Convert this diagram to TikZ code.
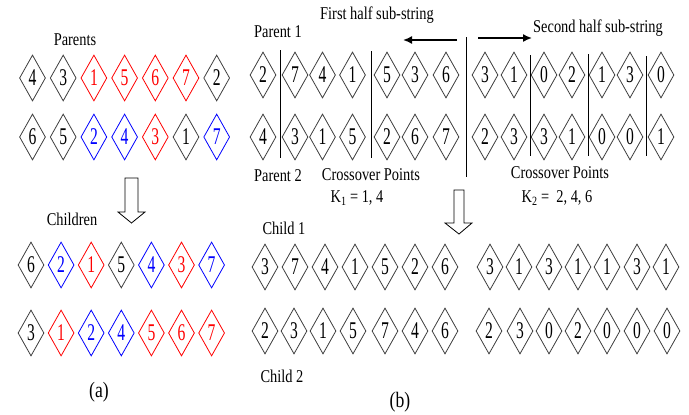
\documentclass[tikz,border=0pt]{standalone}
\usepackage{fontspec}
\setmainfont{Liberation Serif}
\usepackage{graphicx}
\usetikzlibrary{shapes.geometric,arrows.meta}
\definecolor{dgray}{HTML}{404040}
\definecolor{dred}{HTML}{FF0000}
\definecolor{dblue}{HTML}{0000FF}
\newcommand{\lbl}[1]{\scalebox{0.8}[1]{\fontsize{18}{18}\selectfont #1}}
\newcommand{\biglbl}[1]{\scalebox{0.8}[1]{\fontsize{22}{22}\selectfont #1}}
\newcommand{\dgt}[1]{\scalebox{0.65}[1]{\fontsize{24}{24}\selectfont #1}}
\tikzset{
  gem/.style={diamond, draw=dgray, line width=0.8pt, minimum width=26pt, minimum height=46pt, inner sep=0pt, aspect=0.57, text=black},
  redgem/.style={gem, draw=dred, text=dred},
  bluegem/.style={gem, draw=dblue, text=dblue},
  lab/.style={inner sep=0pt, text=black},
  cut/.style={draw=black, line width=0.8pt},
  harrow/.style={draw=black, line width=1.6pt, -{Latex[length=9pt,width=8pt]}},
  hollow/.style={draw=black, line width=0.8pt, fill=white, line join=miter},
}
\begin{document}
\begin{tikzpicture}[x=1pt,y=-1pt]
\fill[white] (0,0) rectangle (689,415);
% ---------- panel (a) ----------
\node[lab] (parents) at (75,40) {\lbl{Parents}};
\foreach \d/\s [count=\i] in {4/gem,3/gem,1/redgem,5/redgem,6/redgem,7/redgem,2/gem}
  \node[\s] (ar1-\i) at ({32.5+30.7*(\i-1)},78) {\dgt{\d}};
\foreach \d/\s [count=\i] in {6/gem,5/gem,2/bluegem,4/bluegem,3/redgem,1/gem,7/bluegem}
  \node[\s] (ar2-\i) at ({32.5+30.7*(\i-1)},137) {\dgt{\d}};
\draw[hollow] (125,178) -- (138,178) -- (138,212) -- (145,212) -- (131.5,223) -- (118,212) -- (125,212) -- cycle;
\node[lab] (children) at (72,219) {\lbl{Children}};
\foreach \d/\s [count=\i] in {6/gem,2/bluegem,1/redgem,5/gem,4/bluegem,3/redgem,7/bluegem}
  \node[\s] (ar3-\i) at ({31+30.1*(\i-1)},265) {\dgt{\d}};
\foreach \d/\s [count=\i] in {3/gem,1/redgem,2/bluegem,4/bluegem,5/redgem,6/redgem,7/redgem}
  \node[\s] (ar4-\i) at ({31+30.1*(\i-1)},333) {\dgt{\d}};
\node[lab] (capa) at (99,392) {\biglbl{(a)}};
% ---------- panel (b) ----------
\node[lab] (p1) at (278,32) {\lbl{Parent 1}};
\node[lab] (first) at (377,15) {\lbl{First half sub-string}};
\node[lab] (second) at (598,28) {\lbl{Second half sub-string}};
\coordinate (la0) at (457,40); \coordinate (la1) at (403,40);
\coordinate (ra0) at (478,38); \coordinate (ra1) at (532,38);
\draw[harrow] (la0) -- (la1);
\draw[harrow] (ra0) -- (ra1);
\coordinate (midt) at (466,37); \coordinate (midb) at (466,177);
\draw[cut] (midt) -- (midb);
% parent rows
\foreach \x/\d [count=\i] in {263/2,295/7,322.5/4,352.5/1,387/5,415/3,446/6,485/3,514/1,544/0,572/2,602/1,630/3,661/0}
  \node[gem] (bp1-\i) at (\x,75) {\dgt{\d}};
\foreach \x/\d [count=\i] in {263/4,295/3,322.5/1,352.5/5,387/2,415/6,446/7,485/2,514/3,544/3,572/1,602/0,630/0,661/1}
  \node[gem] (bp2-\i) at (\x,137) {\dgt{\d}};
% crossover cut lines
\foreach \x/\t/\b [count=\i] in {280/50/158,371/51/158,530/55/156,588/54/156,646/56/156}{
  \coordinate (ct\i) at (\x,\t); \coordinate (cb\i) at (\x,\b);
  \draw[cut] (ct\i) -- (cb\i);
}
\node[lab] (p2) at (278,176) {\lbl{Parent 2}};
\node[lab] (cp1) at (371,175) {\lbl{Crossover Points}};
\node[lab] (k1) at (357,198) {\lbl{K\textsubscript{1} = 1, 4}};
\node[lab] (cp2) at (560,173) {\lbl{Crossover Points}};
\node[lab] (k2) at (557,198) {\lbl{K\textsubscript{2} = ~2, 4, 6}};
\draw[hollow] (454,190) -- (464,190) -- (464,223) -- (472,223) -- (459,234) -- (445,223) -- (454,223) -- cycle;
\node[lab] (c1) at (284,228) {\lbl{Child 1}};
\foreach \x/\d [count=\i] in {265/3,295/7,325/4,355/1,385/5,415/2,445/6,490/3,519/1,549/3,578/1,607/1,637/3,666/1}
  \node[gem] (bc1-\i) at (\x,267) {\dgt{\d}};
\foreach \x/\d [count=\i] in {265/2,294/3,323/1,353/5,385/7,415/4,445/6,489/2,520/3,549/0,578/2,607/0,637/0,667/0}
  \node[gem] (bc2-\i) at (\x,331) {\dgt{\d}};
\node[lab] (c2) at (282,376) {\lbl{Child 2}};
\node[lab] (capb) at (400,402) {\biglbl{(b)}};
\end{tikzpicture}
\end{document}
